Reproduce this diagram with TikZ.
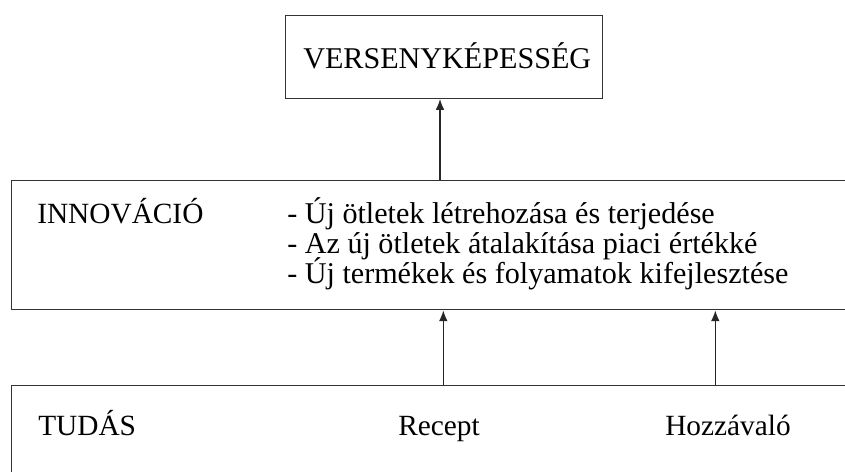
\documentclass[tikz,border=0pt]{standalone}
\usepackage{fontspec}
\setmainfont{Liberation Serif}
\usetikzlibrary{arrows.meta}
\begin{document}
\begin{tikzpicture}[x=0.75pt,y=-0.75pt,
  box/.style={draw=black!80,line width=1.1pt,rectangle,inner sep=0pt,anchor=north west},
  arr/.style={draw=black!85,line width=0.8pt,-{Latex[length=8pt,width=6.5pt]}},
  lbl/.style={inner sep=0pt,anchor=base west,font=\fontsize{22}{26}\selectfont},
  item/.style={inner sep=0pt,anchor=base west,font=\fontsize{22.6}{26}\selectfont}]
\useasboundingbox (0,0) rectangle (845,471);
\clip (0,0) rectangle (845,471);

% the three levels
\node[box,minimum width=317.3*0.75pt,minimum height=83*0.75pt] (vk) at (284.7,14.7) {};
\node[box,minimum width=860*0.75pt,minimum height=129*0.75pt] (innov) at (11,180) {};
\node[box,minimum width=860*0.75pt,minimum height=130*0.75pt] (tudas) at (11,385) {};

% labels
\node[item] (vkt) at (303,68) {VERSENYKÉPESSÉG};
\node[lbl] (int) at (37,223) {INNOVÁCIÓ};
\node[item] (i1) at (287,223) {- Új ötletek létrehozása és terjedése};
\node[item] (i2) at (287,253) {- Az új ötletek átalakítása piaci értékké};
\node[item] (i3) at (287,283) {- Új termékek és folyamatok kifejlesztése};
\node[lbl] (tu) at (38,435) {TUDÁS};
\node[lbl] (rc) at (398,435) {Recept};
\node[lbl] (hz) at (665,435) {Hozzávaló};

% connectors
\coordinate (k0) at (440,0);
\coordinate (k1) at (443.3,0);
\coordinate (k2) at (715.3,0);
\draw[arr] (k0 |- innov.north) -- (k0 |- vk.south);
\draw[arr] (k1 |- tudas.north) -- (k1 |- innov.south);
\draw[arr] (k2 |- tudas.north) -- (k2 |- innov.south);
\end{tikzpicture}
\end{document}
